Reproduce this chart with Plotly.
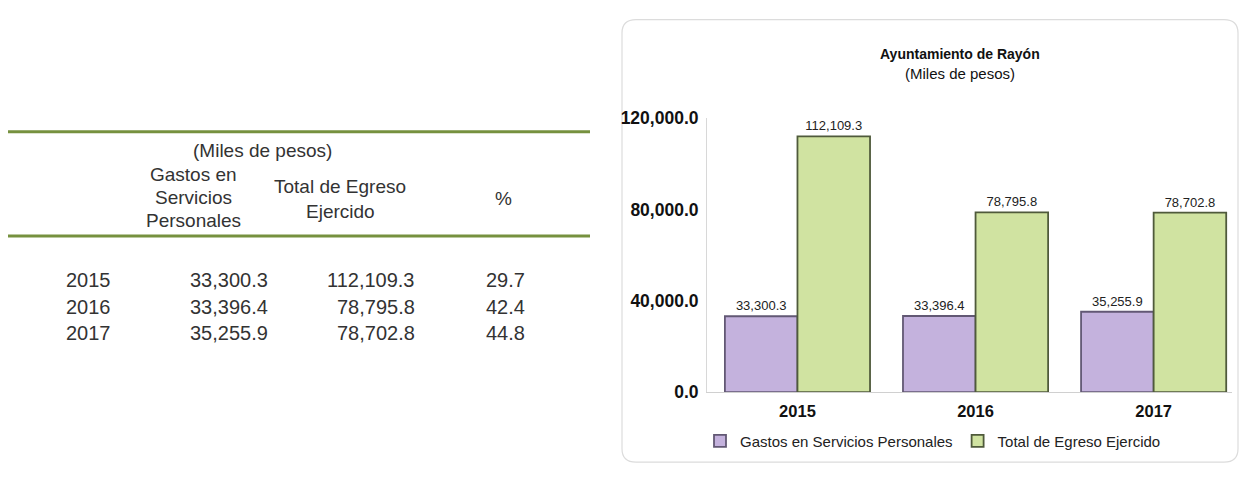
import plotly.graph_objects as go

years = ["2015", "2016", "2017"]
gastos = [33300.3, 33396.4, 35255.9]
total = [112109.3, 78795.8, 78702.8]
pct = [29.7, 42.4, 44.8]
series_names = ["Gastos en Servicios Personales", "Total de Egreso Ejercido"]
y_ticks = [0, 40000, 80000, 120000]

W, H = 1241, 477
FONT = "Liberation Sans, Arial, sans-serif"

def px(x):
    return x / W

def py(y):
    return 1 - y / H

fig = go.Figure()
fig.add_trace(go.Bar(
    x=years, y=gastos, name=series_names[0],
    marker=dict(color="#c4b2dd", line=dict(color="#625874", width=1.8)),
    texttemplate="%{y:,.1f}", textposition="outside",
    textfont=dict(family=FONT, size=13, color="#222"), cliponaxis=False,
))
fig.add_trace(go.Bar(
    x=years, y=total, name=series_names[1],
    marker=dict(color="#d0e3a1", line=dict(color="#4f5a3b", width=1.8)),
    texttemplate="%{y:,.1f}", textposition="outside",
    textfont=dict(family=FONT, size=13, color="#222"), cliponaxis=False,
))

fig.update_layout(
    width=W, height=H,
    margin=dict(l=0, r=0, t=0, b=0),
    paper_bgcolor="white", plot_bgcolor="white",
    barmode="group", bargap=0.185, bargroupgap=0.0,
    showlegend=True,
    legend=dict(orientation="h", x=px(700), xanchor="left", y=py(450), yanchor="middle",
                font=dict(family=FONT, size=15, color="#222"),
                itemwidth=30, bgcolor="rgba(0,0,0,0)"),
    xaxis=dict(domain=[px(707), px(1232)], range=[-0.508, 2.44], showgrid=False,
               showline=True, linecolor="#d0d0d0", linewidth=1, ticks="",
               ticklabelstandoff=4,
               tickfont=dict(family=FONT, size=16.5, color="#111", weight="bold")),
    yaxis=dict(domain=[py(399), py(113)], range=[0, 120000], tickvals=y_ticks,
               tickformat=",.1f", showgrid=False, showline=True, linecolor="#d8d8d8",
               linewidth=1, ticks="", zeroline=False, ticklabelstandoff=4,
               tickfont=dict(family=FONT, size=17.5, color="#111", weight="bold")),
)

# chart title
fig.add_annotation(xref="paper", yref="paper", x=px(960), y=py(46), showarrow=False,
                   text="<b>Ayuntamiento de Rayón</b>", xanchor="center", yanchor="middle",
                   font=dict(family=FONT, size=14, color="#111"))
fig.add_annotation(xref="paper", yref="paper", x=px(960), y=py(66), showarrow=False,
                   text="(Miles de pesos)", xanchor="center", yanchor="middle",
                   font=dict(family=FONT, size=15, color="#111"))

# rounded box around chart
x0, y0, x1, y1, r = 622, 10, 1238, 472, 14
path = (f"M {px(x0+r)} {py(y0)} L {px(x1-r)} {py(y0)} Q {px(x1)} {py(y0)} {px(x1)} {py(y0+r)} "
        f"L {px(x1)} {py(y1-r)} Q {px(x1)} {py(y1)} {px(x1-r)} {py(y1)} "
        f"L {px(x0+r)} {py(y1)} Q {px(x0)} {py(y1)} {px(x0)} {py(y1-r)} "
        f"L {px(x0)} {py(y0+r)} Q {px(x0)} {py(y0)} {px(x0+r)} {py(y0)} Z")
fig.add_shape(type="path", path=path, xref="paper", yref="paper",
              line=dict(color="#dcdcdc", width=1.2), layer="below")

# table lines
for yy in (127, 236):
    fig.add_shape(type="line", xref="paper", yref="paper", x0=px(8), x1=px(590),
                  y0=py(yy), y1=py(yy), line=dict(color="#76913f", width=3))

hfont = dict(family=FONT, size=19, color="#333")
def ann(text, x, y, xanchor="center", font=hfont):
    fig.add_annotation(xref="paper", yref="paper", x=px(x), y=py(y), text=text,
                       showarrow=False, xanchor=xanchor, yanchor="middle", font=font, align="center")

ann("(Miles de pesos)", 262, 147)
ann("Gastos en", 193, 172)
ann("Servicios", 193, 196)
ann("Personales", 193, 220)
ann("Total de Egreso", 340, 184)
ann("Ejercido", 340, 210)
ann("%", 503, 197)

rfont = dict(family=FONT, size=20, color="#333")
row_y = [282, 310, 337]
for i in range(len(years)):
    ann(years[i], 88, row_y[i], "center", rfont)
    ann(f"{gastos[i]:,.1f}", 270, row_y[i], "right", rfont)
    ann(f"{total[i]:,.1f}", 417, row_y[i], "right", rfont)
    ann(f"{pct[i]:.1f}", 505, row_y[i], "center", rfont)

fig.write_html("out.html", config={"displayModeBar": False},
               post_script="document.body.style.margin='0';document.body.style.overflow='hidden';")
